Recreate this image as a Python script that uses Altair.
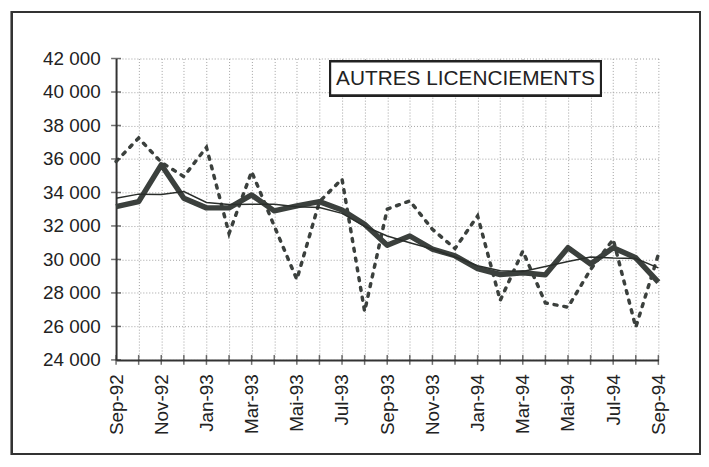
import json
import altair as alt
import pandas as pd

months = ["Sep-92", "Oct-92", "Nov-92", "Déc-92", "Jan-93", "Fév-93", "Mar-93", "Avr-93",
          "Mai-93", "Jun-93", "Jul-93", "Aoû-93", "Sep-93", "Oct-93", "Nov-93", "Déc-93",
          "Jan-94", "Fév-94", "Mar-94", "Avr-94", "Mai-94", "Jun-94", "Jul-94", "Aoû-94", "Sep-94"]

brut = [35850, 37250, 35800, 34950, 36700, 31550, 35250, 32000, 28800, 33450, 34800, 26900,
        33000, 33500, 31800, 30650, 32600, 27550, 30500, 27400, 27150, 29400, 31200, 25950, 30300]

cvs = [33150, 33450, 35650, 33650, 33080, 33080, 33850, 32900, 33200, 33450, 32950, 32100,
       30850, 31400, 30620, 30220, 29450, 29100, 29200, 29080, 30700, 29730, 30700, 30100, 28650]

tendance = [33650, 33900, 33880, 34050, 33400, 33280, 33300, 33300, 33150, 33100, 32750, 31980,
            31400, 31000, 30620, 30150, 29620, 29320, 29280, 29580, 29880, 30150, 30080, 30050, 29500]

y_ticks = [24000, 26000, 28000, 30000, 32000, 34000, 36000, 38000, 40000, 42000]

title_text = "AUTRES LICENCIEMENTS"

DARK = "#3b403d"
FONT = "Liberation Sans"

df = pd.DataFrame({"month": months, "brut": brut, "cvs": cvs, "tendance": tendance})
df_xt = pd.DataFrame({"month": months, "v": [y_ticks[0]] * len(months)})
df_yt = pd.DataFrame({"month": [months[0]] * len(y_ticks), "v": y_ticks})

xscale = alt.Scale(type="point", padding=0)
yscale = alt.Scale(domain=[y_ticks[0], y_ticks[-1]], nice=False, zero=False)

label_expr_x = "indexof(" + json.dumps(months) + ", datum.value) % 2 == 0 ? datum.value : ''"

x_axis = alt.Axis(title=None, grid=True, gridColor="#a0a0a0", gridDash=[1, 2], gridWidth=1,
                  domain=True, domainColor="#333333", domainWidth=2, ticks=False,
                  labelAngle=270, labelOverlap=False, labelExpr=label_expr_x,
                  labelFont=FONT, labelFontSize=19, labelColor="#222222", labelPadding=14)
y_axis = alt.Axis(title=None, grid=True, gridColor="#a0a0a0", gridDash=[1, 2], gridWidth=1,
                  values=y_ticks, domain=True, domainColor="#333333", domainWidth=2, ticks=False,
                  labelExpr="replace(format(datum.value, ','), ',', ' ')",
                  labelFont=FONT, labelFontSize=19, labelColor="#222222", labelPadding=16)

X = alt.X("month:O", sort=months, scale=xscale, axis=x_axis)


def Y(field):
    return alt.Y(field, scale=yscale, axis=y_axis)


frame = alt.Chart(df).mark_rect(fillOpacity=0, stroke="#333333", strokeWidth=2).encode(
    x=alt.value(-105), x2=alt.value(589), y=alt.value(-47), y2=alt.value(399))

base = alt.Chart(df).mark_line(strokeDash=[3, 7], strokeWidth=3.5, strokeCap="round",
                               color=DARK).encode(x=X, y=Y("brut:Q"))

thick = alt.Chart(df).mark_line(strokeWidth=5.5, color=DARK, strokeJoin="round").encode(
    x=X, y=Y("cvs:Q"))

thin = alt.Chart(df).mark_line(strokeWidth=1.5, color="#2a2e2b").encode(
    x=X, y=Y("tendance:Q"))

xt = alt.Chart(df_xt).mark_tick(orient="vertical", size=10, thickness=1.5, color="#333333").encode(
    x=X, y=Y("v:Q"))

yt = alt.Chart(df_yt).mark_tick(orient="horizontal", size=10, thickness=1.5, color="#333333").encode(
    x=X, y=Y("v:Q"))

box = alt.Chart(df).mark_rect(fill="white", stroke="#222222", strokeWidth=2).encode(
    x=alt.value(216), x2=alt.value(489), y=alt.value(3), y2=alt.value(37))

label = alt.Chart(pd.DataFrame({"t": [title_text]})).mark_text(
    font=FONT, fontSize=21, color="#222222", align="center", baseline="middle").encode(
    x=alt.value(352.5), y=alt.value(21), text="t:N")

chart = alt.layer(base, thick, thin, xt, yt, frame, box, label).properties(
    width=547, height=304,
    autosize=alt.AutoSizeParams(type="none"),
    padding={"left": 109, "top": 49, "right": 43, "bottom": 98},
).configure(background="white").configure_view(stroke=None)

chart.save("out.html", embed_options={"renderer": "svg", "actions": False})
